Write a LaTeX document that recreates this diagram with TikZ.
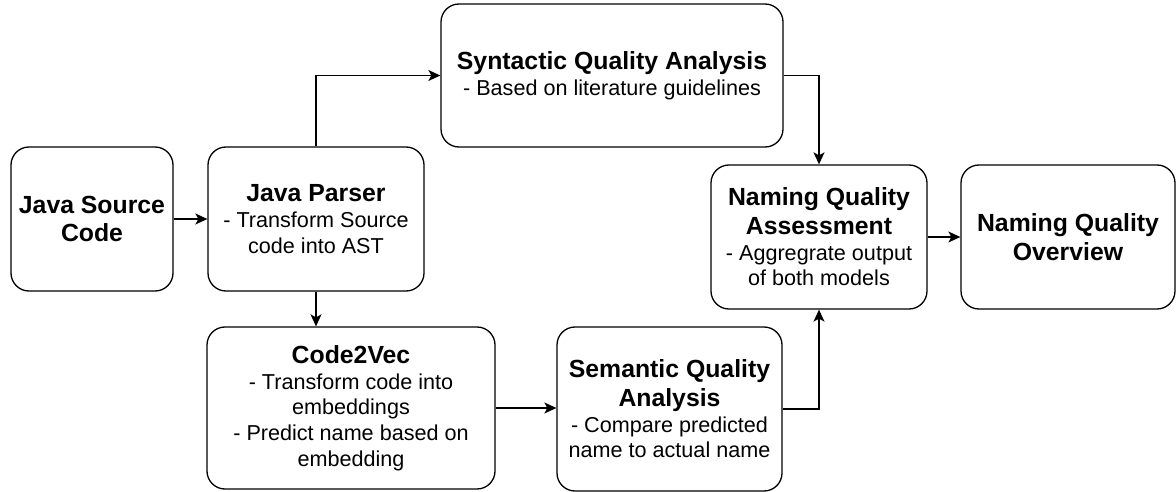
\documentclass[tikz,border=0pt]{standalone}
\usepackage{fontspec}
\setmainfont{Liberation Sans}
\usetikzlibrary{arrows.meta}

\tikzset{
  stage/.style={draw, line width=1.3pt, rounded corners=18pt, align=center,
    inner sep=0pt, font=\fontsize{21.6}{25.7}\selectfont},
  flow/.style={-{Stealth[length=12pt,width=11pt,inset=3pt]}, line width=1.3pt},
}
\newcommand{\stagename}[1]{{\fontsize{24.8}{29}\selectfont\bfseries #1}}

\begin{document}
\begin{tikzpicture}[x=1pt, y=-1pt]

    \useasboundingbox (0,0) rectangle (1176,492);

    %stages
    \node[stage, minimum width=162pt, minimum height=144pt] (source) at (92,219)
        {\stagename{Java Source}\\[3pt]\stagename{Code}};
    \node[stage, minimum width=216pt, minimum height=144pt] (parser) at (316,219)
        {\stagename{Java Parser}\\- Transform Source\\code into AST};
    \node[stage, minimum width=342pt, minimum height=143pt] (syntactic) at (612,75.5)
        {\stagename{Syntactic Quality Analysis}\\- Based on literature guidelines};
    \node[stage, minimum width=288pt, minimum height=162pt] (codevec) at (351,408)
        {\stagename{Code2Vec}\\- Transform code into\\embeddings\\- Predict name based on\\embedding};
    \node[stage, minimum width=225pt, minimum height=164pt] (semantic) at (669.5,409)
        {\stagename{Semantic Quality}\\[3pt]\stagename{Analysis}\\- Compare predicted\\name to actual name};
    \node[stage, minimum width=216pt, minimum height=144pt] (assess) at (819,237)
        {\stagename{Naming Quality}\\[3pt]\stagename{Assessment}\\- Aggregrate output\\of both models};
    \node[stage, minimum width=214pt, minimum height=144pt] (overview) at (1068,237)
        {\stagename{Naming Quality}\\[3pt]\stagename{Overview}};

    %arrows
    \draw[flow] (source) -- (parser);
    \draw[flow] (parser.north) |- (syntactic.west);
    \draw[flow] (syntactic.east) -| (assess.north);
    \draw[flow] (parser.south) -- (parser.south |- codevec.north);
    \draw[flow] (codevec.east) -- (codevec.east -| semantic.west);
    \draw[flow] (semantic.east) -| (assess.south);
    \draw[flow] (assess) -- (overview);

\end{tikzpicture}
\end{document}
